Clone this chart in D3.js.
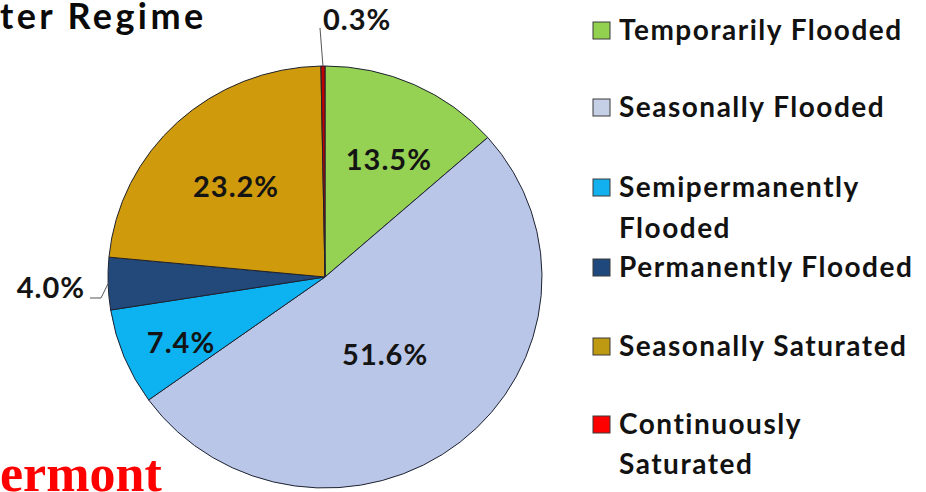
<!DOCTYPE html>
<html>
<head>
<meta charset="utf-8">
<script src="https://cdn.jsdelivr.net/npm/d3@7"></script>
<style>
  html, body { margin: 0; padding: 0; background: #ffffff; }
  svg { display: block; }
</style>
</head>
<body>
<svg id="chart" width="926" height="492"></svg>
<script>
// ---- data ----
const categories = ["Temporarily Flooded", "Seasonally Flooded", "Semipermanently Flooded",
                    "Permanently Flooded", "Seasonally Saturated", "Continuously Saturated"];
const legendLines = [["Temporarily Flooded"], ["Seasonally Flooded"], ["Semipermanently", "Flooded"],
                     ["Permanently Flooded"], ["Seasonally Saturated"], ["Continuously", "Saturated"]];
const values = [13.5, 51.6, 7.4, 4.0, 23.2, 0.3];
const valueLabels = ["13.5%", "51.6%", "7.4%", "4.0%", "23.2%", "0.3%"];
const titleText = "ter Regime";
const footerText = "ermont";

// ---- styles / layout ----
const sliceColors = ["#95D152", "#B9C6E8", "#0DB2F0", "#22497A", "#CF9A0B", "#C00000"];
const legendColors = ["#92D050", "#C5CFE6", "#12B0EE", "#1F497D", "#BE9A12", "#FF0000"];
const font = "Lato, 'Open Sans', sans-serif";

const svg = d3.select("#chart");
const cx = 325, cy = 277, ry = 211, rx = 217;

const pie = d3.pie().sort(null).value(d => d)(values);
const arc = d3.arc().innerRadius(0).outerRadius(ry);

const g = svg.append("g")
  .attr("transform", `translate(${cx},${cy}) scale(${rx / ry},1)`);

g.selectAll("path.slice").data(pie).enter().append("path")
  .attr("class", "slice")
  .attr("d", arc)
  .attr("fill", (d, i) => sliceColors[i])
  .attr("stroke", "#1e2230")
  .attr("stroke-width", 1)
  .attr("vector-effect", "non-scaling-stroke");

function polar(angle, r) {
  return [cx + Math.sin(angle) * r * rx / ry, cy - Math.cos(angle) * r];
}

// inside labels: radius and angular nudge (degrees) of each label (layout); null = outside
const labelRadius = [134, 96, 154, null, 126, null];
const labelShift = [3.3, 1, -2.3, 0, -0.5, 0];
pie.forEach((d, i) => {
  if (labelRadius[i] == null) return;
  const mid = (d.startAngle + d.endAngle) / 2 + labelShift[i] * Math.PI / 180;
  const [x, y] = polar(mid, labelRadius[i]);
  svg.append("text")
    .attr("x", x).attr("y", y)
    .attr("text-anchor", "middle").attr("dominant-baseline", "central")
    .attr("font-family", font).attr("font-weight", 700).attr("font-size", 29)
    .attr("letter-spacing", 1)
    .attr("fill", "#141414")
    .text(valueLabels[i]);
});

// outside labels with leader lines
const outside = [
  { i: 5, tx: 323, ty: 30, anchor: "start", path: (p) => [[320, 28], p] },
  { i: 3, tx: 85, ty: 298, anchor: "end", path: (p) => [[90, 298], [101, 298], p] }
];
outside.forEach(o => {
  const d = pie[o.i];
  const mid = (d.startAngle + d.endAngle) / 2;
  const edge = polar(mid, ry);
  svg.append("path")
    .attr("d", d3.line()(o.path(edge)))
    .attr("fill", "none").attr("stroke", "#555").attr("stroke-width", 1);
  svg.append("text")
    .attr("x", o.tx).attr("y", o.ty)
    .attr("text-anchor", o.anchor)
    .attr("font-family", font).attr("font-weight", 700).attr("font-size", 29)
    .attr("letter-spacing", 1)
    .attr("fill", "#141414")
    .text(valueLabels[o.i]);
});

// title fragment
svg.append("text")
  .attr("x", 0).attr("y", 29)
  .attr("font-family", font).attr("font-weight", 700).attr("font-size", 36)
  .attr("letter-spacing", 3.4)
  .attr("fill", "#0a0a0a")
  .text(titleText);

// footer fragment
svg.append("text")
  .attr("x", 0).attr("y", 491)
  .attr("font-family", "'Liberation Serif', 'Times New Roman', serif")
  .attr("font-weight", 700).attr("font-size", 52)
  .attr("fill", "#FF0000")
  .text(footerText);

// legend
const legendBaselines = [[40], [117], [197, 238], [277], [356], [434, 474]];
const legend = svg.append("g");
categories.forEach((c, i) => {
  const b0 = legendBaselines[i][0];
  legend.append("rect")
    .attr("x", 593).attr("y", b0 - 18)
    .attr("width", 17).attr("height", 17)
    .attr("fill", legendColors[i])
    .attr("stroke", "#3a3a3a").attr("stroke-width", 1);
  legendLines[i].forEach((line, k) => {
    legend.append("text")
      .attr("x", 619).attr("y", legendBaselines[i][k])
      .attr("font-family", font).attr("font-weight", 700).attr("font-size", 28)
      .attr("letter-spacing", 1.5)
      .attr("fill", "#121212")
      .text(line);
  });
});
</script>
</body>
</html>
